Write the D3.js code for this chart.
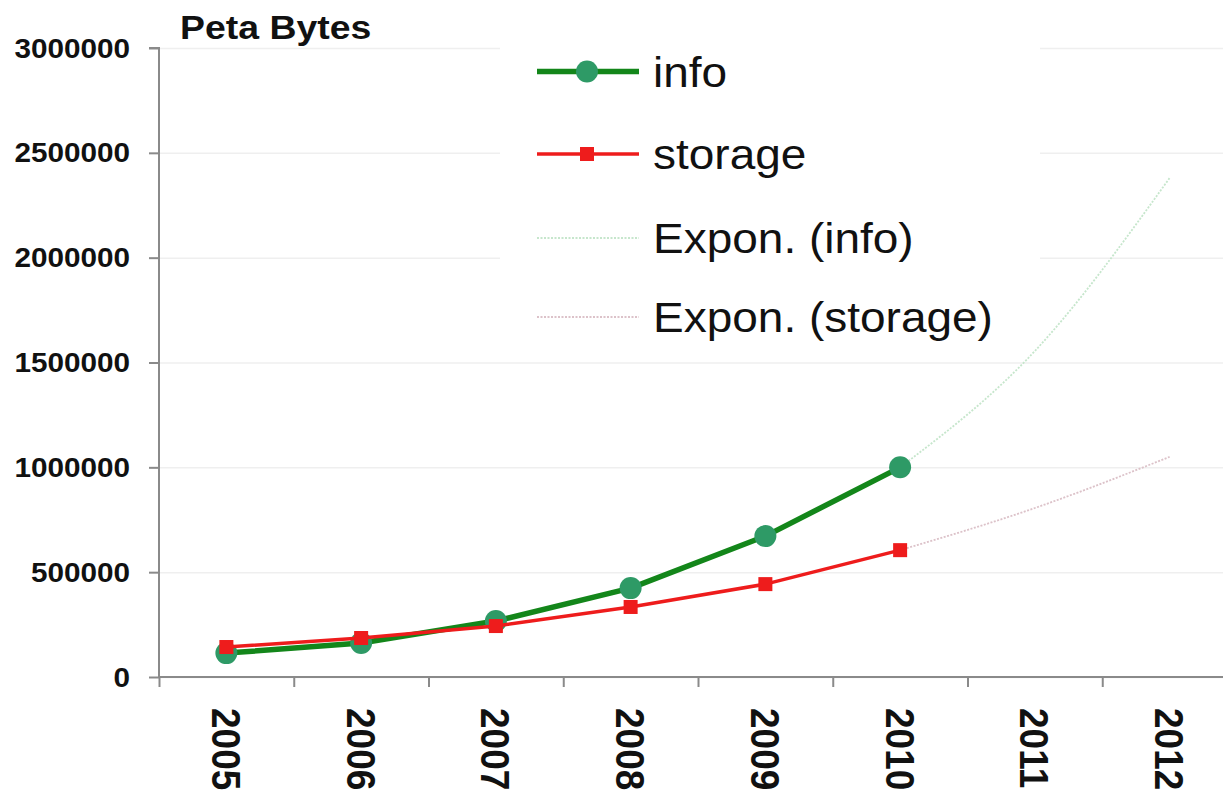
<!DOCTYPE html>
<html>
<head>
<meta charset="utf-8">
<script src="https://cdn.jsdelivr.net/npm/d3@7"></script>
<style>
  html, body { margin: 0; padding: 0; background: #fff; }
  svg { display: block; }
  text { font-family: "Liberation Sans", Arial, sans-serif; fill: #111; }
</style>
</head>
<body>
<svg id="chart" width="1223" height="795"></svg>
<script>
// Categories and series (peta bytes)
const years = ["2005", "2006", "2007", "2008", "2009", "2010", "2011", "2012"];
const infoYears = ["2005", "2006", "2007", "2008", "2009", "2010"];
const infoValues = [114000, 162000, 267000, 424000, 672000, 1000000];
const storageValues = [143000, 186000, 243000, 334000, 443000, 605000];
// Exponential trend lines, projected forward
const trendYears = ["2010", "2011", "2012"];
const infoTrend = [1000000, 1555000, 2380000];
const storageTrend = [605000, 806000, 1050000];
const yTicks = [0, 500000, 1000000, 1500000, 2000000, 2500000, 3000000];
const legendLabels = ["info", "storage", "Expon. (info)", "Expon. (storage)"];

const svg = d3.select("#chart");
const plotLeft = 159, plotRight = 1237, plotTop = 48, plotBottom = 677;
const stretch = 1.1;

const x = d3.scaleBand().domain(years).range([plotLeft, plotRight]).padding(0);
const xBound = d3.scaleLinear().domain([0, years.length]).range([plotLeft, plotRight]);
const y = d3.scaleLinear().domain([0, 3000000]).range([plotBottom, plotTop]);
const cx = d => x(d) + x.bandwidth() / 2;

// Horizontal gridlines
svg.append("g")
  .attr("transform", `translate(${plotLeft},0)`)
  .call(d3.axisLeft(y).tickValues(yTicks).tickSize(-(plotRight - plotLeft)).tickFormat(""))
  .call(g => g.select(".domain").remove())
  .call(g => g.selectAll("line").attr("stroke", "#efefef").attr("stroke-width", 1.5));

// Legend background covers the grid behind it
svg.append("rect").attr("x", 500).attr("y", 44).attr("width", 540).attr("height", 304).attr("fill", "#fff");

// Y axis
const yAxis = svg.append("g")
  .attr("transform", `translate(${plotLeft},0)`)
  .call(d3.axisLeft(y).tickValues(yTicks).tickSize(10).tickFormat(""));
yAxis.select(".domain").attr("stroke", "#8a8a8a").attr("stroke-width", 2).attr("d", `M-10,${plotTop}H0V${plotBottom}`);
yAxis.selectAll(".tick line").attr("stroke", "#8a8a8a").attr("stroke-width", 2);

svg.append("g").selectAll("text").data(yTicks).join("text")
  .attr("transform", d => `translate(130,${y(d) + 9.5}) scale(${stretch},1)`)
  .attr("text-anchor", "end")
  .style("font-size", "27px").style("font-weight", "bold")
  .text(d => d3.format("d")(d));

// X axis with ticks between categories
const xAxis = svg.append("g")
  .attr("transform", `translate(0,${plotBottom})`)
  .call(d3.axisBottom(xBound).tickValues(d3.range(0, years.length + 1)).tickSize(10).tickFormat(""));
xAxis.select(".domain").attr("stroke", "#8a8a8a").attr("stroke-width", 2).attr("d", `M${plotLeft},0H${plotRight}`);
xAxis.selectAll(".tick line").attr("stroke", "#8a8a8a").attr("stroke-width", 2);

svg.append("g").selectAll("text").data(years).join("text")
  .attr("transform", d => `translate(${cx(d) - 14.5},708) scale(${stretch},1) rotate(90)`)
  .attr("text-anchor", "start")
  .style("font-size", "37px").style("font-weight", "bold")
  .text(d => d);

// Axis title
svg.append("text")
  .attr("transform", `translate(180,39) scale(${stretch},1)`)
  .style("font-size", "34px").style("font-weight", "bold")
  .text("Peta Bytes");

// Trend lines
const trendLine = d3.line().x((d, i) => cx(trendYears[i])).y(d => y(d)).curve(d3.curveNatural);
svg.append("path").datum(infoTrend).attr("d", trendLine)
  .attr("fill", "none").attr("stroke", "#c6e6cc").attr("stroke-width", 1.8).attr("stroke-dasharray", "2,1.5");
svg.append("path").datum(storageTrend).attr("d", trendLine)
  .attr("fill", "none").attr("stroke", "#dcc2c9").attr("stroke-width", 1.8).attr("stroke-dasharray", "2,1.5");

// Series lines
const seriesLine = d3.line().x((d, i) => cx(infoYears[i])).y(d => y(d));
const infoColor = "#13861a", infoMarker = "#2e9a66", storageColor = "#ee1c1c";

svg.append("path").datum(infoValues).attr("d", seriesLine)
  .attr("fill", "none").attr("stroke", infoColor).attr("stroke-width", 5.5).attr("stroke-linejoin", "round");
svg.append("g").selectAll("circle").data(infoValues).join("circle")
  .attr("cx", (d, i) => cx(infoYears[i])).attr("cy", d => y(d)).attr("r", 11)
  .attr("fill", infoMarker);

svg.append("path").datum(storageValues).attr("d", seriesLine)
  .attr("fill", "none").attr("stroke", storageColor).attr("stroke-width", 3.5).attr("stroke-linejoin", "round");
svg.append("g").selectAll("rect").data(storageValues).join("rect")
  .attr("x", (d, i) => cx(infoYears[i]) - 7).attr("y", d => y(d) - 7)
  .attr("width", 14).attr("height", 14).attr("fill", storageColor);

// Legend
const legendRows = [71.5, 154, 238, 317];
const lg = svg.append("g");
const lx0 = 537, lx1 = 639, lmid = 587;
lg.append("line").attr("x1", lx0).attr("x2", lx1).attr("y1", legendRows[0]).attr("y2", legendRows[0])
  .attr("stroke", infoColor).attr("stroke-width", 5.5);
lg.append("circle").attr("cx", lmid).attr("cy", legendRows[0]).attr("r", 11).attr("fill", infoMarker);
lg.append("line").attr("x1", lx0).attr("x2", lx1).attr("y1", legendRows[1]).attr("y2", legendRows[1])
  .attr("stroke", storageColor).attr("stroke-width", 3.5);
lg.append("rect").attr("x", lmid - 7).attr("y", legendRows[1] - 7).attr("width", 14).attr("height", 14).attr("fill", storageColor);
lg.append("line").attr("x1", lx0).attr("x2", lx1).attr("y1", legendRows[2]).attr("y2", legendRows[2])
  .attr("stroke", "#c6e6cc").attr("stroke-width", 1.8).attr("stroke-dasharray", "2,1.5");
lg.append("line").attr("x1", lx0).attr("x2", lx1).attr("y1", legendRows[3]).attr("y2", legendRows[3])
  .attr("stroke", "#dcc2c9").attr("stroke-width", 1.8).attr("stroke-dasharray", "2,1.5");
lg.selectAll("text").data(legendLabels).join("text")
  .attr("transform", (d, i) => `translate(653,${legendRows[i] + 15}) scale(1.095,1)`)
  .style("font-size", "42px")
  .text(d => d);
</script>
</body>
</html>
